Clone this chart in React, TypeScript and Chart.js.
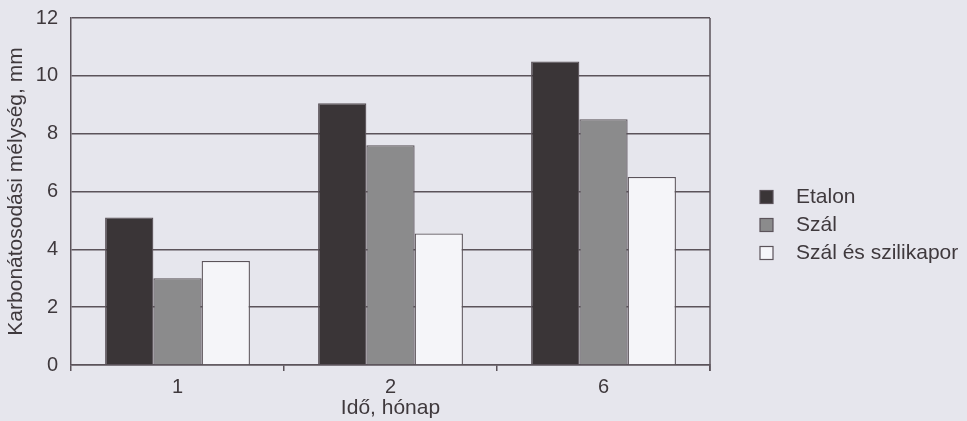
import React, { useEffect, useRef } from "react";
import { Chart, registerables } from "chart.js";

Chart.register(...registerables);

const categories = ["1", "2", "6"];
const seriesNames = ["Etalon", "Szál", "Szál és szilikapor"];
const etalon = [5.1, 9.05, 10.5];
const szal = [3.0, 7.6, 8.5];
const szalSzilikapor = [3.6, 4.55, 6.5];
const yTicks = [0, 2, 4, 6, 8, 10, 12];

const FONT = "'Liberation Sans', Arial, Helvetica, sans-serif";
const INK = "#3f393d";
const LINE = "#5b535a";
const BG = "#e6e6ed";
const FILLS = ["#3a3537", "#8b8b8c", "#f5f5f9"];

const frameAndLegend = {
  id: "frameAndLegend",
  beforeDraw(chart: any) {
    const { ctx, width, height } = chart;
    ctx.save();
    ctx.fillStyle = BG;
    ctx.fillRect(0, 0, width, height);
    ctx.restore();
  },
  afterDraw(chart: any) {
    const { ctx, chartArea } = chart;
    ctx.save();
    // right frame line, extending slightly below the axis like the tick marks
    ctx.strokeStyle = LINE;
    ctx.lineWidth = 1.5;
    ctx.beginPath();
    ctx.moveTo(chartArea.right, chartArea.top);
    ctx.lineTo(chartArea.right, chartArea.bottom + 6);
    ctx.stroke();

    // legend
    const x0 = chartArea.right + 50;
    const y0 = 197;
    const gap = 28;
    ctx.font = `21px ${FONT}`;
    ctx.textBaseline = "middle";
    chart.data.datasets.forEach((ds: any, i: number) => {
      const y = y0 + i * gap;
      ctx.fillStyle = FILLS[i];
      ctx.fillRect(x0, y - 6.5, 13, 13);
      ctx.strokeStyle = LINE;
      ctx.lineWidth = 1.2;
      ctx.strokeRect(x0, y - 6.5, 13, 13);
      ctx.fillStyle = INK;
      ctx.fillText(ds.label, x0 + 36, y);
    });
    ctx.restore();
  },
};

export default function App() {
  const ref = useRef<HTMLCanvasElement>(null);

  useEffect(() => {
    document.body.style.margin = "0";
    const series = [etalon, szal, szalSzilikapor];
    const chart = new Chart(ref.current!, {
      type: "bar",
      data: {
        labels: categories,
        datasets: series.map((data, i) => ({
          label: seriesNames[i],
          data,
          backgroundColor: FILLS[i],
          borderColor: LINE,
          borderWidth: 1.3,
          borderSkipped: "bottom",
          categoryPercentage: 0.68,
          barPercentage: 1,
        })),
      },
      options: {
        animation: false,
        responsive: false,
        maintainAspectRatio: false,
        layout: { padding: { top: 18, right: 257, left: 0, bottom: 0 } },
        plugins: { legend: { display: false }, tooltip: { enabled: false } },
        scales: {
          x: {
            offset: true,
            grid: {
              offset: true,
              drawOnChartArea: false,
              drawTicks: true,
              tickLength: 6,
              color: LINE,
              lineWidth: 1.5,
            },
            border: { color: LINE, width: 1.5 },
            ticks: { color: INK, font: { family: FONT, size: 20 }, padding: 4 },
            title: {
              display: true,
              text: "Idő, hónap",
              color: INK,
              font: { family: FONT, size: 21 },
              padding: { top: -6, bottom: 0 },
            },
            afterFit(scale: any) {
              scale.height = 56;
            },
          },
          y: {
            min: 0,
            max: 12,
            afterBuildTicks(scale: any) {
              scale.ticks = yTicks.map((v) => ({ value: v }));
            },
            grid: {
              color: LINE,
              lineWidth: 1.5,
              drawTicks: false,
            },
            border: { color: LINE, width: 1.5 },
            ticks: { color: INK, font: { family: FONT, size: 20 }, padding: 13 },
            title: {
              display: true,
              text: "Karbonátosodási mélység, mm",
              color: INK,
              font: { family: FONT, size: 21 },
              padding: { top: 4, bottom: 0 },
            },
            afterFit(scale: any) {
              scale.width = 71;
              scale.paddingTop = 0;
              scale.paddingBottom = 0;
            },
          },
        },
      },
      plugins: [frameAndLegend],
    });
    return () => chart.destroy();
  }, []);

  return (
    <div style={{ width: 967, height: 421, background: BG }}>
      <canvas ref={ref} width={967} height={421} style={{ display: "block" }} />
    </div>
  );
}
